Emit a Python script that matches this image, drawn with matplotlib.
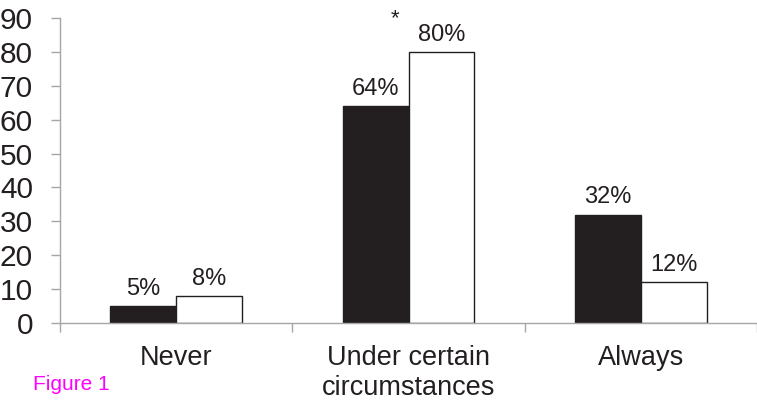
import matplotlib
matplotlib.use("Agg")
import matplotlib.pyplot as plt
import numpy as np

categories = ["Never", "Under certain\ncircumstances", "Always"]
series_black = [5, 64, 32]
series_white = [8, 80, 12]
labels_black = ["5%", "64%", "32%"]
labels_white = ["8%", "80%", "12%"]
yticks = [0, 10, 20, 30, 40, 50, 60, 70, 80, 90]

plt.rcParams['font.family'] = ['Liberation Sans', 'DejaVu Sans']
txt = '#231f20'
axc = '#a6a6a6'

fig = plt.figure(figsize=(7.57, 4.0), dpi=100)
ax = fig.add_axes([60/757, 77/400, 697/757, 305/400])

x = np.arange(len(categories))
w = 0.284
ax.bar(x - w/2, series_black, width=w, color='#231f20', edgecolor='#231f20', linewidth=1)
ax.bar(x + w/2, series_white, width=w, color='white', edgecolor='#231f20', linewidth=1)

ax.set_xlim(-0.5, 2.5)
ax.set_ylim(0, 90)
ax.set_yticks(yticks)
ax.set_yticklabels([str(v) for v in yticks])
ax.set_xticks(x)
ax.set_xticklabels(categories)
ax.set_xticks([-0.5, 0.5, 1.5, 2.5], minor=True)

for s in ['top', 'right']:
    ax.spines[s].set_visible(False)
for s in ['left', 'bottom']:
    ax.spines[s].set_color(axc)
    ax.spines[s].set_linewidth(1)

ax.tick_params(axis='y', direction='out', length=6.5, width=1, color=axc,
               labelsize=21.5, labelcolor=txt, pad=13)
ax.tick_params(axis='x', which='major', length=0, labelsize=19.5, labelcolor=txt, pad=16)
ax.tick_params(axis='x', which='minor', direction='out', length=6.5, width=1, color=axc)
for lab in ax.get_xticklabels():
    lab.set_linespacing(1.2)

for i in range(len(categories)):
    ax.annotate(labels_black[i], (x[i] - w/2, series_black[i]), xytext=(0, 8),
                textcoords='offset points', ha='center', va='baseline',
                fontsize=17, color=txt)
    ax.annotate(labels_white[i], (x[i] + w/2, series_white[i]), xytext=(0, 8),
                textcoords='offset points', ha='center', va='baseline',
                fontsize=17, color=txt)

ax.annotate('*', (x[1] - 0.06, series_white[1]), xytext=(0, 20),
            textcoords='offset points', ha='center', va='baseline',
            fontsize=16, color=txt, annotation_clip=False)

fig.text(33/757, 1 - 390/400, 'Figure 1', color='#ff00ff', fontsize=15,
         ha='left', va='baseline')

fig.savefig('out.png', dpi=100)
